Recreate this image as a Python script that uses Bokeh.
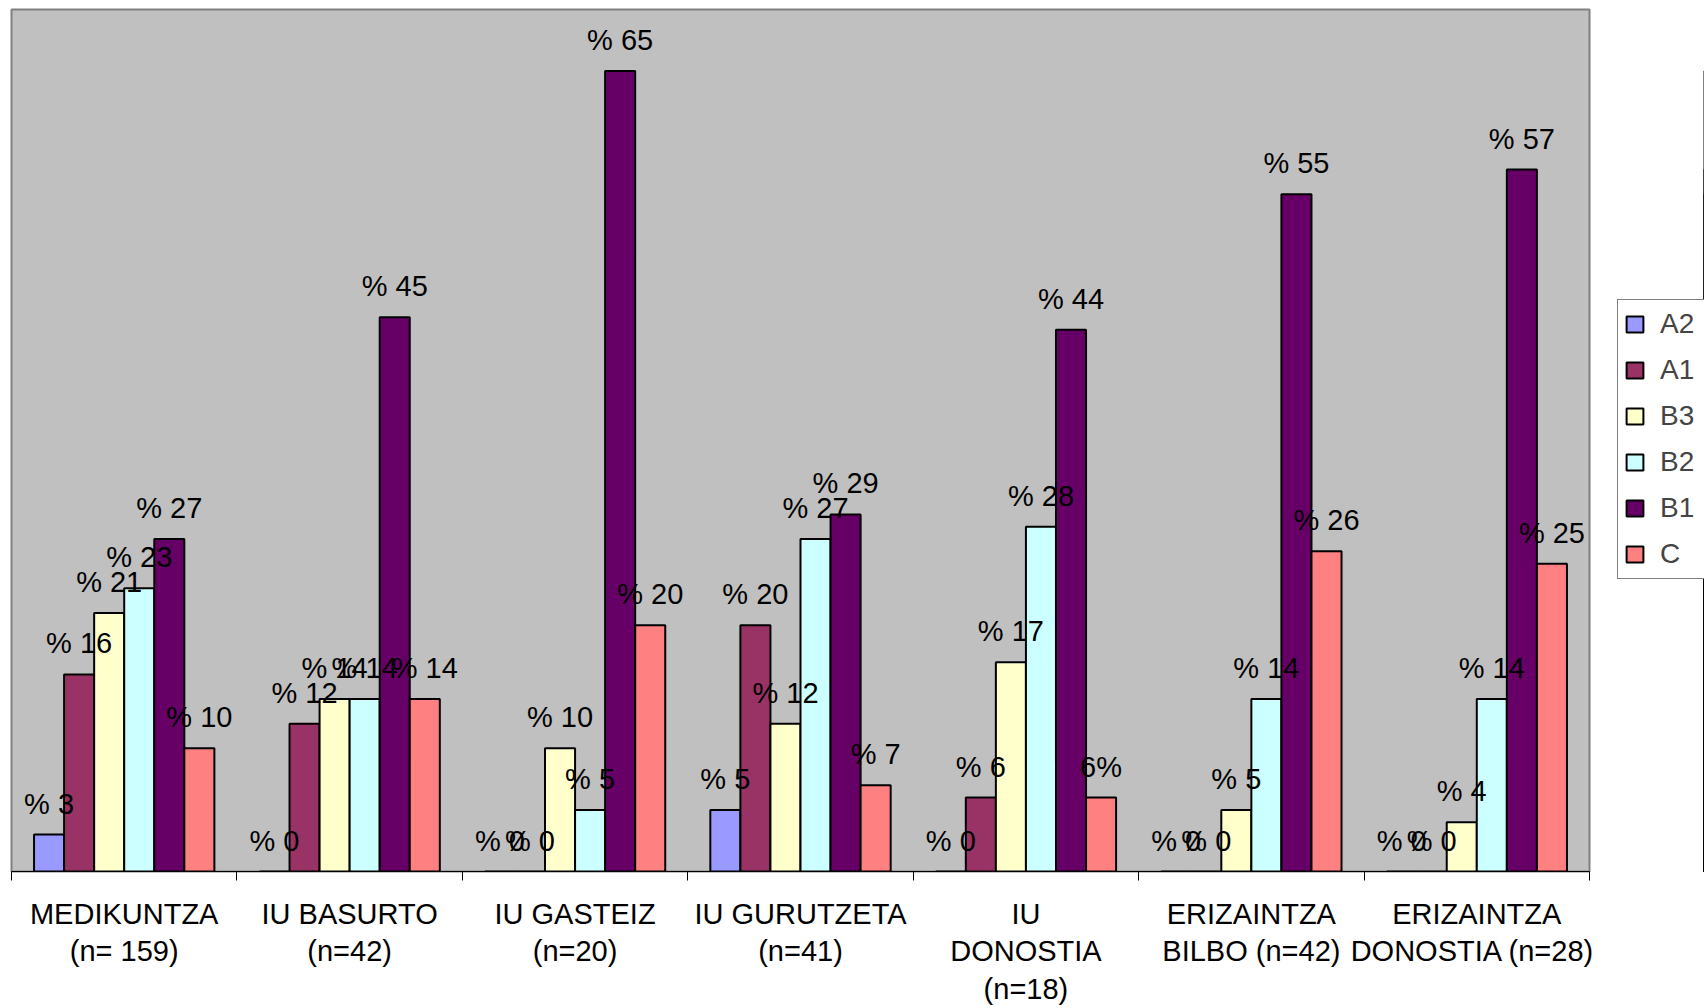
from bokeh.plotting import figure
from bokeh.layouts import row
from bokeh.models import (ColumnDataSource, Range1d, FixedTicker, Legend, LegendItem)
from bokeh.transform import dodge
from bokeh.core.properties import value
from bokeh.embed import file_html
from bokeh.resources import INLINE

categories = ["MEDIKUNTZA\n(n= 159)", "IU BASURTO\n(n=42)", "IU GASTEIZ\n(n=20)",
              "IU GURUTZETA\n(n=41)", "IU\nDONOSTIA\n(n=18)", "ERIZAINTZA\nBILBO (n=42)",
              "ERIZAINTZA\nDONOSTIA  (n=28)"]
series = ["A2", "A1", "B3", "B2", "B1", "C"]
A2 = [3, 0, 0, 5, 0, 0, 0]
A1 = [16, 12, 0, 20, 6, 0, 0]
B3 = [21, 14, 10, 12, 17, 5, 4]
B2 = [23, 14, 5, 27, 28, 14, 14]
B1 = [27, 45, 65, 29, 44, 55, 57]
C = [10, 14, 20, 7, 6, 26, 25]
C_labels = ["% 10", "% 14", "% 20", "% 7", "6%", "% 26", "% 25"]
colors = ["#9999FF", "#993366", "#FFFFCC", "#CCFFFF", "#660066", "#FF8080"]

values = {"A2": A2, "A1": A1, "B3": B3, "B2": B2, "B1": B1, "C": C}
data = {"x": [i + 0.5 for i in range(len(categories))]}
for s in series:
    data[s] = values[s]
    data[s + "_lab"] = [f"% {v}" for v in values[s]]
data["C_lab"] = C_labels
src = ColumnDataSource(data)

FONT = "Liberation Sans"
H = 1008
FRAME_BOTTOM = 871

p = figure(width=1606, height=H, output_backend="svg", toolbar_location=None,
           x_range=Range1d(0, len(categories)), y_range=Range1d(0, 70),
           min_border_left=11, min_border_top=9, min_border_right=17,
           min_border_bottom=H - FRAME_BOTTOM)
p.background_fill_color = "#C0C0C0"
p.border_fill_color = "white"
p.outline_line_color = "#808080"
p.outline_line_width = 2
p.xgrid.visible = False
p.ygrid.visible = False
p.yaxis.visible = False

bw = 1 / 7.5
for i, s in enumerate(series):
    off = (i - 2.5) * bw
    p.vbar(x=dodge("x", off), top=s, width=bw, bottom=0, source=src,
           fill_color=colors[i], line_color="black", line_width=2)
for i, s in enumerate(series):
    off = (i - 2.5) * bw
    p.text(x=dodge("x", off), y=s, text=s + "_lab", source=src,
           text_align="center", text_baseline="middle", y_offset=-31,
           text_font=value(FONT), text_font_size="29px", text_color="black")

ax = p.xaxis[0]
ax.ticker = FixedTicker(ticks=[i + 0.5 for i in range(len(categories))],
                        minor_ticks=list(range(len(categories) + 1)))
ax.major_label_overrides = {i + 0.5: c for i, c in enumerate(categories)}
ax.major_tick_out = 0
ax.major_tick_in = 0
ax.minor_tick_out = 9
ax.minor_tick_in = 0
ax.minor_tick_line_color = "black"
ax.axis_line_color = "black"
ax.axis_line_width = 1
ax.major_label_standoff = 17
ax.major_label_text_font = FONT
ax.major_label_text_font_size = "29px"
ax.major_label_text_color = "black"
ax.major_label_text_line_height = 1.18

# legend panel: a narrow figure to the right of the plot area; its renderers
# share the data but lie outside its (hidden) x range, so only the legend shows
lf = figure(width=98, height=H, output_backend="svg", toolbar_location=None,
            x_range=Range1d(-10, -9), y_range=Range1d(0, 70), min_border=0)
lf.axis.visible = False
lf.grid.visible = False
lf.outline_line_color = None
lf.background_fill_color = "white"
lf.border_fill_color = "white"
items = []
for i, s in enumerate(series):
    r = lf.vbar(x="x", top=s, width=bw, source=src, fill_color=colors[i],
                line_color="black", line_width=2)
    items.append(LegendItem(label=s, renderers=[r]))
legend = Legend(items=items, location=(11, FRAME_BOTTOM - 579))
legend.label_text_font = FONT
legend.label_text_font_size = "28px"
legend.label_height = 36
legend.label_width = 50
legend.glyph_height = 20
legend.glyph_width = 21
legend.spacing = 10
legend.padding = 6
legend.margin = 0
legend.label_standoff = 15
legend.border_line_color = "black"
legend.border_line_width = 1
legend.background_fill_color = "white"
legend.background_fill_alpha = 1
lf.add_layout(legend, "center")

layout = row(p, lf, spacing=0)
open("out.html", "w").write(file_html(layout, INLINE))
